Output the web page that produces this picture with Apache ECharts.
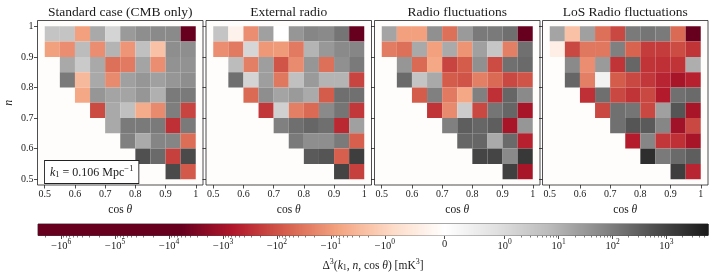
<!DOCTYPE html>
<html><head><meta charset="utf-8">
<script src="https://cdn.jsdelivr.net/npm/echarts@6/dist/echarts.min.js"></script>
<style>html,body{margin:0;padding:0;background:#fff}#c{width:714px;height:275px}</style>
</head><body><div id="c"></div>
<script>
// ---------------- data ----------------
const panelTitles = ['Standard case (CMB only)', 'External radio', 'Radio fluctuations', 'LoS Radio fluctuations'];
const binWidth = 0.05;
const cosLower = [0.5, 0.55, 0.6, 0.65, 0.7, 0.75, 0.8, 0.85, 0.9, 0.95];   // column lower edges
const nLower = [0.95, 0.9, 0.85, 0.8, 0.75, 0.7, 0.65, 0.6, 0.55, 0.5];     // row lower edges (top row first)
const xTicks = [0.5, 0.6, 0.7, 0.8, 0.9, 1.0];
const yTicks = [0.5, 0.6, 0.7, 0.8, 0.9, 1.0];

// Delta^3 values [mK^3], rows top (n=0.95-1) to bottom (n=0.5-0.55), columns cos(theta) 0.5 -> 1
const standardCase = [
  [3.9, 3.9, -8.1, 15, 1.5, 29, 48, 58, 58, -2.7e6],
  [-8, -15, 6.2, -15, 9.1, -11.7, 4.9, -2.2, 48, 48],
  [null, 15, 2.7, 15, -39, -28, 18, -15, 41, 41],
  [null, 110, -3.0, 15, -17, 22, 34, 22, 34, 48],
  [null, null, -6.1, 34, 18, 18, 34, 11, 110, 110],
  [null, null, null, -132, 15, 4.9, -5.2, -17, 93, -160],
  [null, null, null, null, 15, 110, 110, 110, -300, 110],
  [null, null, null, null, null, 87, 14, 71, 71, -42],
  [null, null, null, null, null, null, 560, 200, -180, 700],
  [null, null, null, null, null, null, null, null, 700, -79]
];
const externalRadio = [
  [3.9, -0.3, -15, 22, 0, 34, 69, 58, 130, -2.6e6],
  [-15, -28, 1.3, -10.7, -10, -28, 9.1, 31, 58, 69],
  [null, 6.2, -24, 24, -96, -16, 34, -39, 44, 110],
  [null, 170, 1.5, 24, -30, 4.9, 29, 9.1, 9.1, -160],
  [null, null, -48, 48, 18, 29, 14, -74, 170, 160],
  [null, null, null, -230, 1.9, -24, -48, 58, 130, -230],
  [null, null, null, null, 87, 170, 240, 170, -380, 22],
  [null, null, null, null, null, 110, 48, 48, 110, -66],
  [null, null, null, null, null, null, 380, 460, -66, 1200],
  [null, null, null, null, null, null, null, null, 930, -180]
];
const radioFluctuations = [
  [18, -8.1, -8.1, 44, -39, 29, 110, 110, 170, -2.7e6],
  [-26, -39, 15, -8.1, 14, -12, 22, 3.4, -24, 160],
  [null, 34, -48, -6.1, -160, -74, 44, -123, 160, 200],
  [null, 200, 3.9, 15, -74, -96, -24, -48, -140, -96],
  [null, null, -74, 87, -28, -6.1, 87, -300, 240, 58],
  [null, null, null, -260, -17, 2.4, -140, 130, 240, -830],
  [null, null, null, null, 87, 320, 240, 320, -830, 34],
  [null, null, null, null, null, 240, 240, 14, 200, -490],
  [null, null, null, null, null, null, 890, 890, 58, 1600],
  [null, null, null, null, null, null, null, null, 1100, -830]
];
const losRadioFluctuations = [
  [18, -2.2, 22, -39, -140, 110, 130, 110, -48, -2.7e6],
  [-0.41, -140, -30, -30, 87, -58, -200, -200, -123, -260],
  [null, 58, -15, 29, -260, 240, -260, -300, -260, 12],
  [null, 240, -24, 0.37, -74, -140, -230, -430, -830, -490],
  [null, null, -300, 170, -140, -260, -140, -590, 160, 200],
  [null, null, null, -140, 160, 130, -140, 22, 460, -830],
  [null, null, null, null, 160, 460, 380, 69, -1070, -140],
  [null, null, null, null, null, -550, 69, -230, -300, -830],
  [null, null, null, null, null, null, 2450, 110, 200, 320],
  [null, null, null, null, null, null, null, null, 1200, -430]
];
const panels = [standardCase, externalRadio, radioFluctuations, losRadioFluctuations];

// colour bar
const VMIN = -2.7e6, VMAX = 5.9e3;
const cbarTicks = [-1e6, -1e5, -1e4, -1e3, -1e2, -1e1, -1, 0, 1, 10, 100, 1000];
const RdGy = ['#67001f','#b2182b','#d6604d','#f4a582','#fddbc7','#ffffff','#e0e0e0','#bababa','#878787','#4d4d4d','#1a1a1a'];

// ---------------- helpers ----------------
const LINSCALE_ADJ = 1 / (1 - 1 / 10);
function symlog(x) { const a = Math.abs(x); return a <= 1 ? x * LINSCALE_ADJ : Math.sign(x) * (LINSCALE_ADJ + Math.log10(a)); }
const TC = symlog(VMAX);
const clampT = t => Math.max(-TC, Math.min(TC, t));
const TLO = symlog(VMIN), THI = symlog(VMAX);

const FONT = '"Liberation Serif","DejaVu Serif",serif';
const TXT = '#1a1a1a';

const lefts = [37.5, 206, 374.5, 542.5];
const PW = 165.5, PTOP = 20.5, PH = 164.5;

const grids = [], xAxes = [], yAxes = [], series = [];
lefts.forEach((l, i) => {
  grids.push({left: l, top: PTOP, width: PW, height: PH, show: true, borderColor: '#222', borderWidth: 0.8, backgroundColor: '#fffdfc'});
  xAxes.push({
    gridIndex: i, type: 'value', min: 0.476, max: 1.024,
    axisLine: {show: false}, splitLine: {show: false},
    axisTick: {show: true, customValues: xTicks, length: 3.5, lineStyle: {color: '#222', width: 0.8}},
    axisLabel: {show: true, customValues: xTicks, margin: 4, color: TXT, fontFamily: FONT, fontSize: 10,
      formatter: v => Math.abs(v - 1) < 1e-9 ? '1' : v.toFixed(1)},
    name: '{r|cos }{i|θ}', nameLocation: 'middle', nameGap: 18,
    nameTextStyle: {rich: {r: {fontFamily: FONT, fontSize: 11.5, color: TXT}, i: {fontFamily: FONT, fontStyle: 'italic', fontSize: 11.5, color: TXT}}}
  });
  yAxes.push({
    gridIndex: i, type: 'value', min: 0.481, max: 1.019,
    axisLine: {show: false}, splitLine: {show: false},
    axisTick: {show: true, customValues: yTicks, length: 3.5, lineStyle: {color: '#222', width: 0.8}},
    axisLabel: {show: i === 0, customValues: yTicks, margin: 4, color: TXT, fontFamily: FONT, fontSize: 10,
      formatter: v => Math.abs(v - 1) < 1e-9 ? '1' : v.toFixed(1)},
    name: i === 0 ? 'n' : '', nameLocation: 'middle', nameGap: 23, nameRotate: 90,
    nameTextStyle: {fontFamily: FONT, fontStyle: 'italic', fontSize: 12, color: TXT}
  });
  const data = [];
  panels[i].forEach((row, r) => row.forEach((v, c) => {
    if (v !== null) data.push([cosLower[c], nLower[r], clampT(symlog(v)), v]);
  }));
  series.push({
    type: 'custom', xAxisIndex: i, yAxisIndex: i, data: data, clip: true,
    renderItem: (params, api) => {
      const x0 = api.value(0), y0 = api.value(1);
      const p0 = api.coord([x0, y0 + binWidth]);
      const p1 = api.coord([x0 + binWidth, y0]);
      return {type: 'rect', shape: {x: p0[0], y: p0[1], width: p1[0] - p0[0], height: p1[1] - p0[1]},
        style: {fill: api.visual('color')}};
    }
  });
});

// colour bar grid
grids.push({left: 38, top: 224, width: 670, height: 11.5, show: true, borderColor: '#222', borderWidth: 0.8});
const majorT = cbarTicks.map(symlog);
const minorVals = [];
for (let m = 0; m <= 6; m++) for (let k = 2; k <= 9; k++) { const v = -k * Math.pow(10, m); if (v > VMIN) minorVals.push(v); }
for (let m = 0; m <= 3; m++) for (let k = 2; k <= 9; k++) { const v = k * Math.pow(10, m); if (v < VMAX) minorVals.push(v); }
const minorT = minorVals.map(symlog);
function cbarLabel(t) {
  let best = 0, bd = 1e9;
  majorT.forEach((m, j) => { const d = Math.abs(m - t); if (d < bd) { bd = d; best = j; } });
  const v = cbarTicks[best];
  if (v === 0) return '{b|0}';
  const e = Math.round(Math.log10(Math.abs(v)));
  return '{b|' + (v < 0 ? '−10' : '10') + '}{s|' + e + '}';
}
xAxes.push({
  gridIndex: 4, type: 'value', min: TLO, max: THI, position: 'bottom',
  axisLine: {show: false}, splitLine: {show: false},
  axisTick: {show: true, customValues: majorT, length: 3.5, lineStyle: {color: '#222', width: 0.8}},
  axisLabel: {show: true, customValues: majorT, margin: 3, formatter: cbarLabel,
    rich: {b: {fontFamily: FONT, fontSize: 10.5, color: TXT}, s: {fontFamily: FONT, fontSize: 7.5, color: TXT, padding: [0, 0, 8, 0]}}},
  name: '{d|Δ}{s|3}{d|(}{i|k}{u|1}{d|, }{i|n}{d|, cos }{i|θ}{d|) [mK}{s|3}{d|]}',
  nameLocation: 'middle', nameGap: 22,
  nameTextStyle: {rich: {
    d: {fontFamily: FONT, fontSize: 11.5, color: TXT},
    i: {fontFamily: FONT, fontSize: 11.5, fontStyle: 'italic', color: TXT},
    s: {fontFamily: FONT, fontSize: 8, color: TXT, padding: [0, 0, 8, 0]},
    u: {fontFamily: FONT, fontSize: 8, color: TXT, padding: [5, 0, 0, 0]}
  }}
});
xAxes.push({
  gridIndex: 4, type: 'value', min: TLO, max: THI, position: 'bottom',
  axisLine: {show: false}, splitLine: {show: false}, axisLabel: {show: false},
  axisTick: {show: true, customValues: minorT, length: 2, lineStyle: {color: '#222', width: 0.6}}
});
yAxes.push({gridIndex: 4, type: 'value', min: 0, max: 1, show: false});
const NS = 670;
const cbarData = [];
for (let j = 0; j < NS; j++) {
  const t0 = TLO + (THI - TLO) * j / NS, t1 = TLO + (THI - TLO) * (j + 1) / NS;
  cbarData.push([t0, t1, clampT((t0 + t1) / 2)]);
}
series.push({
  type: 'custom', xAxisIndex: 4, yAxisIndex: 4, data: cbarData, silent: true,
  renderItem: (params, api) => {
    const p0 = api.coord([api.value(0), 1]);
    const p1 = api.coord([api.value(1), 0]);
    return {type: 'rect', shape: {x: p0[0], y: p0[1], width: p1[0] - p0[0] + 0.6, height: p1[1] - p0[1]},
      style: {fill: api.visual('color')}};
  }
});

const graphics = panelTitles.map((t, i) => ({
  type: 'text', x: lefts[i] + PW / 2, y: 12,
  style: {text: t, fontFamily: FONT, fontSize: 13.5, fill: TXT, align: 'center', verticalAlign: 'middle'}
}));
graphics.push({
  type: 'text', x: 45, y: 161, z: 100,
  style: {
    text: '{i|k}{u|1}{d| = 0.106 Mpc}{s|−1}',
    backgroundColor: '#fff', borderColor: '#222', borderWidth: 0.9, padding: [3, 5, 2, 5],
    rich: {
      d: {fontFamily: FONT, fontSize: 12, fill: TXT},
      i: {fontFamily: FONT, fontSize: 12, fontStyle: 'italic', fill: TXT},
      u: {fontFamily: FONT, fontSize: 8.5, fill: TXT, padding: [5, 0, 0, 0]},
      s: {fontFamily: FONT, fontSize: 8.5, fill: TXT, padding: [0, 0, 8, 0]}
    }
  }
});

const chart = echarts.init(document.getElementById('c'), null, {renderer: 'canvas'});
chart.setOption({
  animation: false,
  backgroundColor: '#fff',
  grid: grids, xAxis: xAxes, yAxis: yAxes, series: series,
  visualMap: {type: 'continuous', show: false, dimension: 2, min: -TC, max: TC, seriesIndex: [0, 1, 2, 3, 4],
    inRange: {color: RdGy}},
  graphic: graphics
});
</script></body></html>
